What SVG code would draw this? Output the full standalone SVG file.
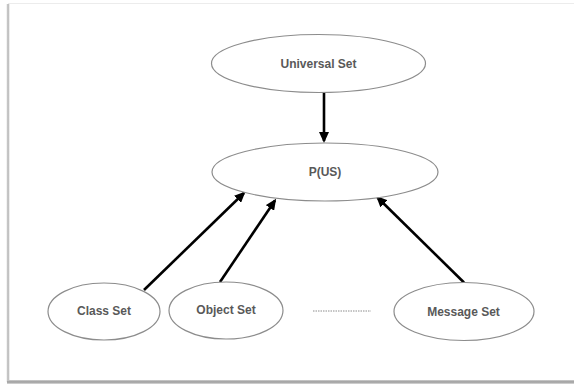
<svg xmlns="http://www.w3.org/2000/svg" width="574" height="385" viewBox="0 0 574 385">
  <style>
    .node ellipse { fill: #ffffff; stroke: #8c8c8c; stroke-width: 1.2; }
    .node text { font-family: "Liberation Sans", Arial, sans-serif; font-size: 12px; font-weight: bold; fill: #595959; text-anchor: middle; dominant-baseline: central; }
    .edge { stroke: #000000; stroke-width: 2.6; fill: none; marker-end: url(#arrow); }
  </style>
  <defs>
    <marker id="arrow" markerUnits="userSpaceOnUse" markerWidth="11" markerHeight="10" refX="9" refY="5" orient="auto">
      <path d="M0,0 L11,5 L0,10 z" fill="#000000"/>
    </marker>
    <linearGradient id="leftEdge" x1="0" y1="0" x2="1" y2="0">
      <stop offset="0" stop-color="#e6e6e6"/>
      <stop offset="0.5" stop-color="#b5b5b5"/>
      <stop offset="1" stop-color="#dcdcdc"/>
    </linearGradient>
    <linearGradient id="bottomEdge" x1="0" y1="0" x2="0" y2="1">
      <stop offset="0" stop-color="#d0d0d0"/>
      <stop offset="0.5" stop-color="#9a9a9a"/>
      <stop offset="1" stop-color="#dddddd"/>
    </linearGradient>
  </defs>

  <!-- page background and frame -->
  <rect x="0" y="0" width="574" height="385" fill="#ffffff"/>
  <g id="frame">
    <rect x="8" y="3" width="566" height="1" fill="#ececec"/>
    <rect x="6.5" y="4" width="3" height="378" fill="url(#leftEdge)"/>
    <rect x="7" y="380" width="567" height="4" fill="url(#bottomEdge)"/>
  </g>

  <!-- connectors -->
  <g id="connectors">
    <line class="edge" x1="324" y1="93" x2="324" y2="141"/>
    <line class="edge" x1="144" y1="290" x2="244" y2="193"/>
    <line class="edge" x1="220" y1="282" x2="275" y2="200.5"/>
    <line class="edge" x1="464" y1="282.5" x2="377.5" y2="197.5"/>
    <line x1="313" y1="311" x2="371" y2="311" stroke="#8c8c8c" stroke-width="1" stroke-dasharray="1.5,1"/>
  </g>

  <!-- nodes -->
  <g id="universal-set" class="node">
    <ellipse cx="318.5" cy="63.5" rx="107" ry="29"/>
    <text x="318.5" y="63.5">Universal Set</text>
  </g>
  <g id="p-us" class="node">
    <ellipse cx="325" cy="172" rx="113" ry="29"/>
    <text x="325" y="172">P(US)</text>
  </g>
  <g id="class-set" class="node">
    <ellipse cx="104" cy="311.5" rx="56" ry="28.5"/>
    <text x="104" y="311">Class Set</text>
  </g>
  <g id="object-set" class="node">
    <ellipse cx="226" cy="310.5" rx="57" ry="28.5"/>
    <text x="226" y="310">Object Set</text>
  </g>
  <g id="message-set" class="node">
    <ellipse cx="464" cy="311.5" rx="70" ry="29"/>
    <text x="463.5" y="311.5">Message Set</text>
  </g>
</svg>
